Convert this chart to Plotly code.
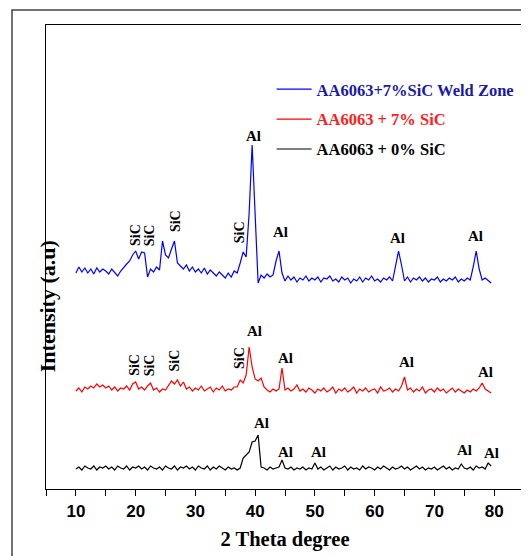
import plotly.graph_objects as go

# 2-theta sampling grid (degrees), 0.5 deg step from 10 to 79.5
two_theta = [10 + 0.5 * i for i in range(140)]

# Intensities (a.u.), each relative to its own baseline
weld_zone = [
    12, 18, 13, 17, 12, 16, 11, 17, 13, 16,
    14, 11, 16, 13, 9, 14, 18, 21, 24, 30,
    34, 26, 33, 32, 8, 16, 13, 18, 15, 44,
    30, 27, 36, 44, 22, 19, 16, 20, 14, 18,
    13, 16, 12, 17, 11, 15, 12, 9, 13, 10,
    7, 12, 8, 14, 12, 22, 33, 28, 72, 140,
    78, 2, 10, 7, 11, 8, 10, 24, 34, 12,
    4, 9, 5, 8, 3, 7, 5, 9, 4, 7,
    5, 8, 3, 7, 6, 9, 4, 6, 3, 8,
    5, 7, 2, 6, 4, 8, 3, 7, 5, 9,
    4, 6, 3, 7, 5, 8, 4, 20, 34, 20,
    4, 8, 3, 7, 5, 8, 4, 7, 3, 6,
    5, 8, 3, 6, 4, 7, 5, 8, 3, 6,
    4, 7, 5, 18, 34, 16, 5, 7, 4, 2,
]
sic_7 = [
    4, 7, 3, 8, 6, 9, 7, 11, 8, 10,
    7, 9, 5, 8, 4, 7, 6, 9, 5, 11,
    13, 6, 8, 5, 9, 12, 5, 7, 3, 6,
    5, 10, 14, 11, 15, 9, 13, 6, 8, 4,
    7, 5, 9, 4, 6, 8, 3, 7, 5, 9,
    4, 6, 5, 8, 8, 15, 12, 20, 48, 28,
    16, 14, 17, 8, 5, 3, 6, 4, 6, 27,
    5, 7, 4, 6, 10, 4, 6, 3, 7, 5,
    2, 6, 4, 7, 3, 5, 8, 2, 6, 4,
    7, 3, 5, 8, 2, 6, 4, 7, 3, 5,
    6, 2, 8, 4, 5, 7, 3, 6, 4, 9,
    18, 5, 7, 3, 6, 4, 8, 2, 5, 6,
    3, 7, 4, 6, 2, 5, 7, 3, 6, 4,
    2, 5, 3, 6, 4, 7, 12, 6, 4, 2,
]
sic_0 = [
    3, 5, 2, 6, 4, 3, 6, 2, 5, 4,
    6, 3, 5, 2, 6, 4, 3, 6, 2, 5,
    4, 6, 3, 5, 2, 6, 4, 3, 5, 2,
    6, 4, 3, 6, 2, 5, 4, 6, 3, 5,
    2, 6, 4, 3, 6, 2, 5, 3, 6, 4,
    2, 5, 3, 4, 2, 4, 14, 17, 20, 30,
    31, 37, 5, 4, 2, 5, 3, 4, 5, 12,
    4, 3, 5, 2, 4, 3, 5, 2, 4, 3,
    9, 3, 5, 2, 4, 6, 2, 5, 3, 4,
    6, 2, 5, 3, 4, 2, 6, 3, 5, 4,
    2, 5, 3, 6, 4, 2, 5, 3, 4, 6,
    3, 5, 2, 4, 6, 3, 5, 2, 4, 3,
    5, 2, 4, 6, 3, 5, 2, 4, 3, 8,
    4, 3, 5, 2, 6, 4, 5, 3, 9, 6,
]

series_names = ["AA6063+7%SiC Weld Zone", "AA6063 + 7% SiC", "AA6063 + 0% SiC"]
stack_offsets = [204, 94, 17]

# Peak labels: (2-theta, height)
al_labels = [
    (39.65, 353), (44.3, 257), (63.9, 251), (76.95, 253),
    (39.85, 158), (45.15, 131), (65.35, 127), (78.5, 117),
    (41.1, 66), (45.15, 37), (50.55, 37), (75.0, 39), (79.6, 36),
]
sic_labels = [
    (19.9, 254), (22.3, 254), (26.6, 268), (37.35, 257),
    (19.7, 124), (22.3, 124), (26.5, 129), (37.3, 131),
]

x_tick_vals = [5, 10, 15, 20, 25, 30, 35, 40, 45, 50, 55, 60, 65, 70, 75, 80, 85]
x_tick_text = ["", "10", "", "20", "", "30", "", "40", "", "50", "", "60", "", "70", "", "80", ""]

for arr in (weld_zone, sic_7, sic_0):
    assert len(arr) == len(two_theta), len(arr)

line_colors = ["#0000ff", "#ff0000", "#000000"]
text_colors = ["#1a1aa8", "#ff2020", "#000000"]

fig = go.Figure()
for name, vals, off, lc, tc in zip(series_names, [weld_zone, sic_7, sic_0],
                                   stack_offsets, line_colors, text_colors):
    fig.add_trace(go.Scatter(
        x=two_theta, y=[v + off for v in vals], mode="lines",
        line=dict(color=lc, width=1.2),
        name=f"<b><span style='color:{tc}'>{name}</span></b>",
        legendgroup=name,
    ))

serif = "Liberation Serif"
ann = []
for x, y in al_labels:
    ann.append(dict(x=x, y=y, xref="x", yref="y", text="<b>Al</b>", showarrow=False,
                    font=dict(family=serif, size=15, color="black")))
for x, y in sic_labels:
    ann.append(dict(x=x, y=y, xref="x", yref="y", text="<b>SiC</b>", showarrow=False,
                    textangle=-90, font=dict(family=serif, size=14, color="black")))
ann.append(dict(x=-0.027, y=0.393, xref="paper", yref="paper", text="<b>Intensity (a.u)</b>",
                showarrow=False, textangle=-90, font=dict(family=serif, size=22, color="black")))

# page body has an 8px margin: figure is shifted, so sizes/margins compensate
fig.update_layout(
    width=521, height=548,
    margin=dict(l=38, r=5, t=17, b=67),
    paper_bgcolor="white", plot_bgcolor="white",
    showlegend=True,
    legend=dict(x=0.472, y=0.899, xanchor="left", yanchor="top", itemwidth=35,
                font=dict(family=serif, size=16.5, color="black"),
                bgcolor="rgba(0,0,0,0)", tracegroupgap=5.5, traceorder="grouped"),
    annotations=ann,
    shapes=[dict(type="rect", xref="paper", yref="paper",
                 x0=-0.0711, x1=1.1, y0=-0.3, y1=1.0323,
                 line=dict(color="#444444", width=1.5), layer="below")],
    xaxis=dict(range=[5, 85], tickmode="array", tickvals=x_tick_vals, ticktext=x_tick_text,
               ticks="outside", ticklen=6, tickwidth=1.2, tickcolor="black",
               showline=True, linecolor="black", linewidth=1.3, mirror=True,
               showgrid=False, zeroline=False,
               tickfont=dict(family="Liberation Sans", size=17, color="black", weight="bold"),
               title=dict(text="<b>2 Theta degree</b>", font=dict(family=serif, size=20.5, color="black"),
                          standoff=12)),
    yaxis=dict(range=[0, 464], showticklabels=False, ticks="",
               showline=True, linecolor="black", linewidth=1.3, mirror=True,
               showgrid=False, zeroline=False),
)

fig.write_html("out.html")
